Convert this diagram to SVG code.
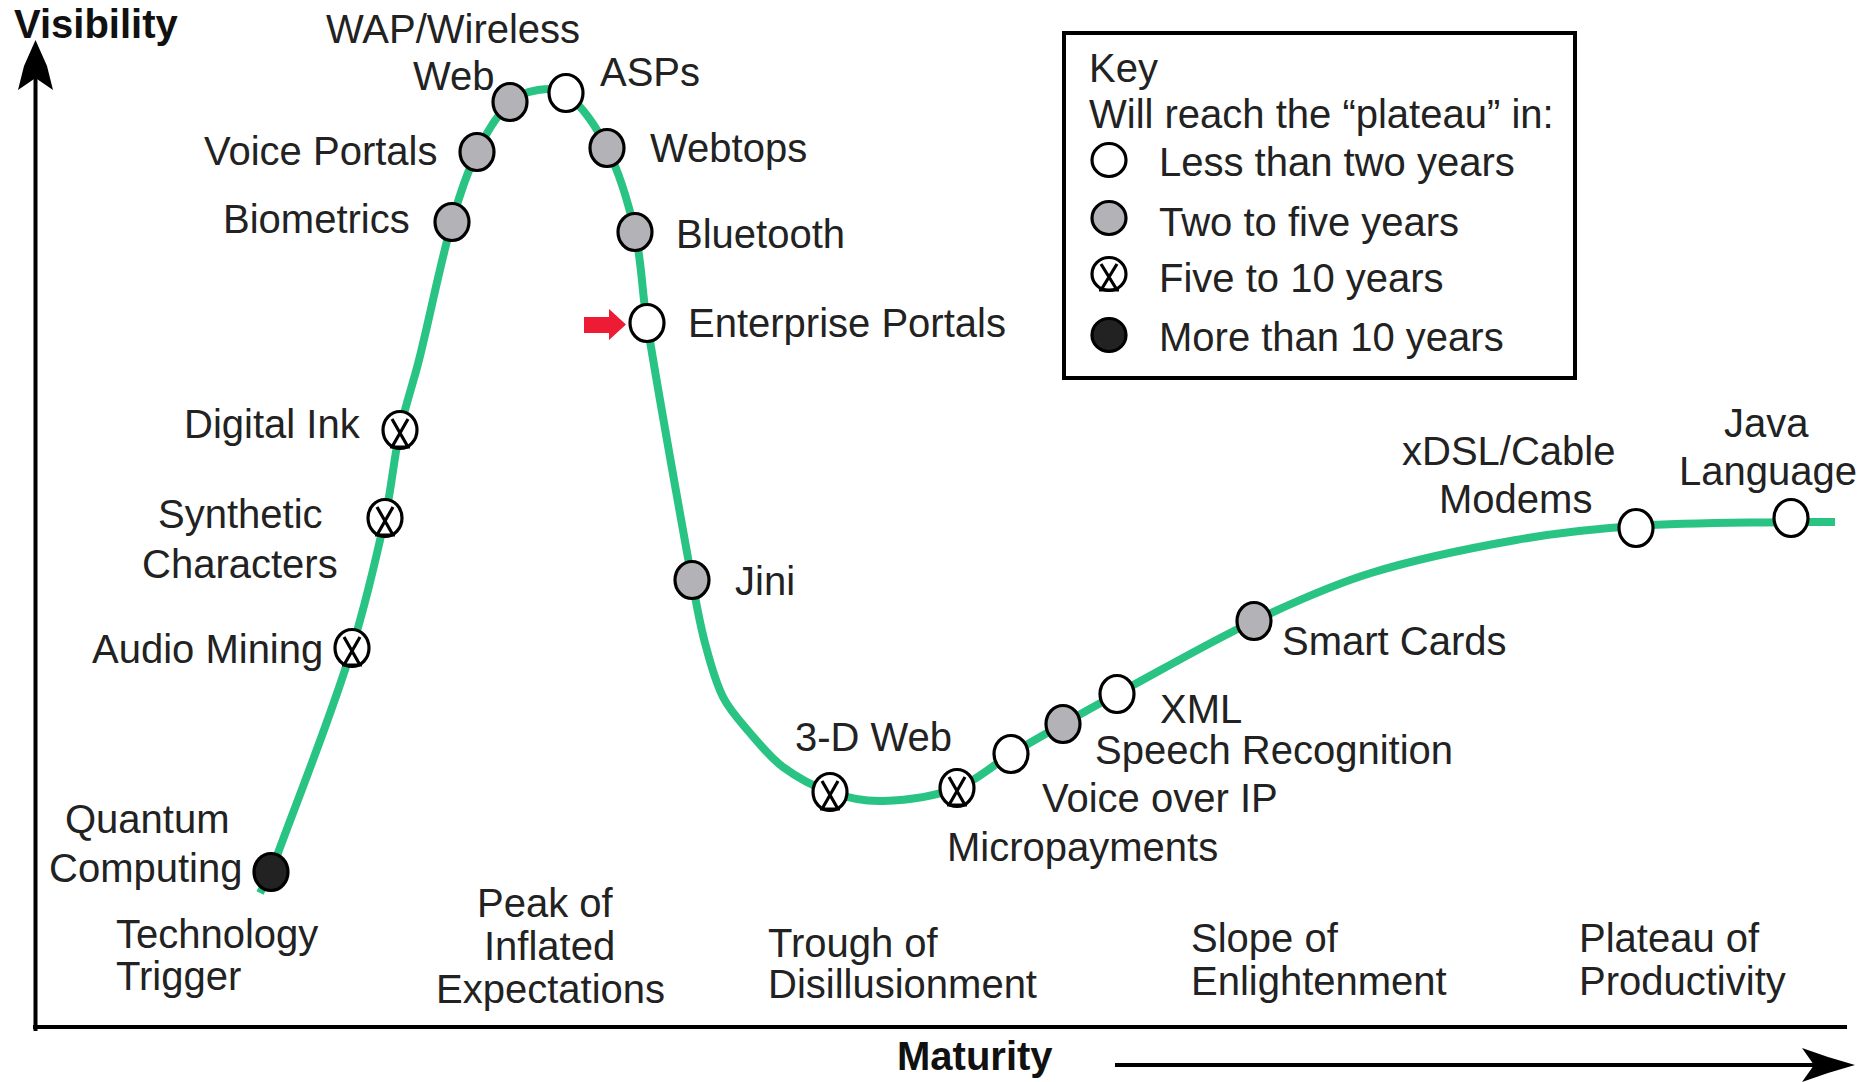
<svg xmlns="http://www.w3.org/2000/svg" width="1862" height="1082" viewBox="0 0 1862 1082">
  <style>
    .t { font-family: "Liberation Sans", Arial, sans-serif; font-size: 40px; fill: #222; }
    .ax { font-weight: bold; fill: #111; }
    .mk { stroke: #000; stroke-width: 3.2; }
    .w { fill: #fff; }
    .g { fill: #b3b2b6; }
    .b { fill: #222; }
    .xl { fill: none; stroke: #000; stroke-width: 3.2; }
    .axis { stroke: #000; stroke-width: 4; fill: none; }
    .curve { fill: none; stroke: #29c484; stroke-width: 8; stroke-linejoin: round; }
  </style>
  <defs>
    <!-- plateau markers: white < 2 yrs, grey 2-5 yrs, cross 5-10 yrs, black > 10 yrs -->
    <ellipse id="mk-w" rx="17" ry="18.5" class="mk w"/>
    <ellipse id="mk-g" rx="17" ry="18.5" class="mk g"/>
    <ellipse id="mk-b" rx="17" ry="18.5" class="mk b"/>
    <g id="mk-x">
      <ellipse rx="17" ry="18.5" class="mk w"/>
      <path d="M-8,-11 L8,17 M8,-11 L-8,17 M-10,17 H10" class="xl"/>
    </g>
  </defs>

  <rect width="1862" height="1082" fill="#fff"/>

  <!-- axes -->
  <g id="axes">
    <line x1="35.5" y1="70" x2="35.5" y2="1031" class="axis"/>
    <path d="M35.5,40 L47,66 L53,90 L35.5,78 L18,90 L24,66 Z" fill="#000"/>
    <line x1="33" y1="1027" x2="1847" y2="1027" class="axis"/>
    <line x1="1115" y1="1065" x2="1820" y2="1065" class="axis"/>
    <path d="M1855,1065 L1828,1057 L1802,1048 L1814,1065 L1802,1082 L1828,1073 Z" fill="#000"/>
    <text x="14" y="38" class="t ax">Visibility</text>
    <text x="897" y="1070" class="t ax">Maturity</text>
  </g>

  <!-- hype curve -->
  <g id="connectors">
    <path class="curve" d="M260,893 L271,872 C298,797.4 328.7,723.8 352,648 C365.1,605.3 375.4,561.6 385,518 C391.4,488.9 393.7,459.1 400,430 C405.1,406.4 413.1,383.5 419,360 C430.5,314.1 439.3,267.5 452,222 C458.6,198.1 466.3,174.2 477,152 C485.6,134.1 496.5,115.7 510,102 C516.9,95 528.3,91.6 538,90 C547,88.6 559.3,87.4 566,93 C582.3,106.7 596.9,127.7 607,148 C620,174.1 628.5,203.4 635,232 C641.8,261.7 642,292.8 647,323 C661.1,408.9 676.5,494.4 692,580 C695.8,601.1 699.5,622.3 705,643 C709.9,661.3 714.6,680.2 723,697 C729.6,710.2 740.3,721.6 750,733 C760.3,745 770.4,757.7 783,767 C797.1,777.4 813.4,786.4 830,792 C846.8,797.7 865.3,801.6 883,801 C907.7,800.2 934,796.5 957,788 C976.6,780.8 992.8,765 1011,754 C1028.1,743.7 1045.6,733.8 1063,724 C1081,713.8 1098.8,703.8 1117,694 C1162.5,669.5 1207.4,643.2 1254,621 C1292.1,602.9 1330.8,585.4 1371,573 C1418.2,558.4 1467.2,548.6 1516,540 C1555.6,533 1595.8,528.6 1636,526 C1687.5,522.6 1739.3,523 1791,522 C1805.7,521.7 1820.3,522 1835,522"/>
  </g>

  <!-- phase labels -->
  <g id="phases">
    <text x="116" y="948" class="t">Technology</text>
    <text x="116" y="990" class="t">Trigger</text>
    <text x="477" y="917" class="t">Peak of</text>
    <text x="484" y="960" class="t">Inflated</text>
    <text x="436" y="1003" class="t">Expectations</text>
    <text x="768" y="957" class="t">Trough of</text>
    <text x="768" y="998" class="t">Disillusionment</text>
    <text x="1191" y="952" class="t">Slope of</text>
    <text x="1191" y="995" class="t">Enlightenment</text>
    <text x="1579" y="952" class="t">Plateau of</text>
    <text x="1579" y="995" class="t">Productivity</text>
  </g>

  <!-- technologies -->
  <g id="quantum-computing">
    <use href="#mk-b" x="271" y="872"/>
    <text x="65" y="833" class="t">Quantum</text>
    <text x="49" y="882" class="t">Computing</text>
  </g>
  <g id="audio-mining">
    <use href="#mk-x" x="352" y="648"/>
    <text x="92" y="663" class="t">Audio Mining</text>
  </g>
  <g id="synthetic-characters">
    <use href="#mk-x" x="385" y="518"/>
    <text x="158" y="528" class="t">Synthetic</text>
    <text x="142" y="578" class="t">Characters</text>
  </g>
  <g id="digital-ink">
    <use href="#mk-x" x="400" y="430"/>
    <text x="184" y="438" class="t">Digital Ink</text>
  </g>
  <g id="biometrics">
    <use href="#mk-g" x="452" y="222"/>
    <text x="223" y="233" class="t">Biometrics</text>
  </g>
  <g id="voice-portals">
    <use href="#mk-g" x="477" y="152"/>
    <text x="204" y="165" class="t">Voice Portals</text>
  </g>
  <g id="wap-wireless-web">
    <use href="#mk-g" x="510" y="102"/>
    <text x="326" y="43" class="t">WAP/Wireless</text>
    <text x="413" y="90" class="t">Web</text>
  </g>
  <g id="asps">
    <use href="#mk-w" x="566" y="93"/>
    <text x="600" y="86" class="t">ASPs</text>
  </g>
  <g id="webtops">
    <use href="#mk-g" x="607" y="148"/>
    <text x="650" y="162" class="t">Webtops</text>
  </g>
  <g id="bluetooth">
    <use href="#mk-g" x="635" y="232"/>
    <text x="676" y="248" class="t">Bluetooth</text>
  </g>
  <g id="enterprise-portals">
    <path d="M584,317 H609 V309 L626,324.5 L609,340 V333 H584 Z" fill="#ee1b35"/>
    <use href="#mk-w" x="647" y="323"/>
    <text x="688" y="337" class="t">Enterprise Portals</text>
  </g>
  <g id="jini">
    <use href="#mk-g" x="692" y="580"/>
    <text x="735" y="595" class="t">Jini</text>
  </g>
  <g id="web-3d">
    <use href="#mk-x" x="830" y="792"/>
    <text x="795" y="751" class="t">3-D Web</text>
  </g>
  <g id="micropayments">
    <use href="#mk-x" x="957" y="788"/>
    <text x="947" y="861" class="t">Micropayments</text>
  </g>
  <g id="voice-over-ip">
    <use href="#mk-w" x="1011" y="754"/>
    <text x="1042" y="812" class="t">Voice over IP</text>
  </g>
  <g id="speech-recognition">
    <use href="#mk-g" x="1063" y="724"/>
    <text x="1095" y="764" class="t">Speech Recognition</text>
  </g>
  <g id="xml">
    <use href="#mk-w" x="1117" y="694"/>
    <text x="1160" y="723" class="t">XML</text>
  </g>
  <g id="smart-cards">
    <use href="#mk-g" x="1254" y="621"/>
    <text x="1282" y="655" class="t">Smart Cards</text>
  </g>
  <g id="xdsl-cable-modems">
    <use href="#mk-w" x="1636" y="528"/>
    <text x="1402" y="465" class="t">xDSL/Cable</text>
    <text x="1439" y="513" class="t">Modems</text>
  </g>
  <g id="java-language">
    <use href="#mk-w" x="1791" y="518"/>
    <text x="1724" y="437" class="t">Java</text>
    <text x="1679" y="485" class="t">Language</text>
  </g>

  <!-- key -->
  <g id="key">
    <rect x="1064" y="33" width="511" height="345" fill="#fff" stroke="#000" stroke-width="4"/>
    <text x="1089" y="82" class="t">Key</text>
    <text x="1089" y="128" class="t">Will reach the “plateau” in:</text>
    <ellipse cx="1109" cy="160" rx="17" ry="16.5" class="mk w"/>
    <text x="1159" y="176" class="t">Less than two years</text>
    <ellipse cx="1109" cy="218" rx="17" ry="16.5" class="mk g"/>
    <text x="1159" y="236" class="t">Two to five years</text>
    <g transform="translate(1109,274)">
      <ellipse rx="17" ry="16.5" class="mk w"/>
      <path d="M-8,-10 L8,16 M8,-10 L-8,16 M-10,16 H10" class="xl"/>
    </g>
    <text x="1159" y="292" class="t">Five to 10 years</text>
    <ellipse cx="1109" cy="335" rx="17" ry="16.5" class="mk b"/>
    <text x="1159" y="351" class="t">More than 10 years</text>
  </g>
</svg>
